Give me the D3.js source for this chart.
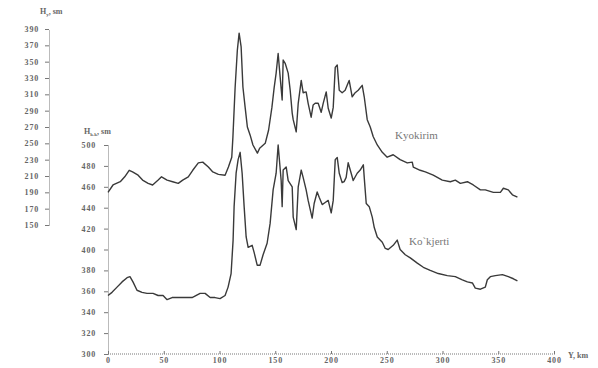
<!DOCTYPE html>
<html>
<head>
<meta charset="utf-8">
<script src="https://cdn.jsdelivr.net/npm/d3@7"></script>
<style>
  body { margin: 0; background: #fff; }
  text { font-family: "Liberation Serif", serif; }
</style>
</head>
<body>
<script>
// distance along profile, km
const kyokirimX = [0, 4.5, 11, 15, 19, 22, 27, 31, 36, 40, 45, 48, 53, 58, 63, 67, 72, 76, 81, 85, 90, 94, 99, 105, 108, 111, 112, 114, 116, 117.6, 119.4, 121, 123, 125, 127.5, 130, 134, 136, 141, 144, 147, 149, 150.8, 152.6, 154.4, 156.2, 157.1, 158.9, 161.6, 163.4, 165.2, 166.1, 168.8, 170.6, 173.3, 175, 177.7, 179.5, 182.2, 184, 185.8, 188.5, 191.2, 193, 195.7, 197.5, 200.2, 202, 203.8, 205.6, 207.4, 210, 212.7, 214.5, 216.3, 219, 221.7, 224.4, 228, 229.8, 232.5, 235.2, 237.9, 241.5, 246, 250.4, 255.8, 262, 268.4, 272.9, 273.8, 280, 284.6, 291.7, 299.8, 307, 311.5, 316, 322.3, 327.6, 334, 338.4, 345.6, 351.9, 354.6, 359, 362.7, 367.2];
const kyokirimH = [190, 199, 203, 209, 217, 215, 211, 205, 201, 199, 205, 209, 205, 203, 201, 205, 209, 217, 226, 227, 221, 215, 212, 211, 221, 233, 257, 318, 364, 385, 368, 319, 294, 270, 260, 248, 238, 244, 250, 266, 294, 318, 336, 360, 331, 303, 352, 348, 336, 315, 287, 279, 264, 299, 327, 312, 313, 299, 282, 297, 299, 299, 288, 299, 313, 293, 281, 294, 343, 346, 315, 312, 315, 321, 327, 307, 312, 315, 321, 307, 279, 270, 258, 248, 239, 233, 236, 230, 226, 227, 221, 217, 215, 211, 205, 203, 205, 201, 203, 199, 193, 193, 190, 190, 195, 193, 187, 184];

const kokjertiX = [0, 3.6, 8.1, 12.6, 17.1, 19.7, 22.4, 26, 30.5, 35, 40.4, 44.9, 49.4, 53, 57.5, 62.8, 69.1, 75.4, 82.6, 87.1, 91.6, 96, 100.5, 105, 107.7, 110.4, 112.2, 113.1, 114.9, 116.7, 118.5, 120.3, 122.1, 123.9, 125.7, 129.3, 131.1, 133.8, 136.4, 139.1, 142.7, 145.4, 148.1, 150.8, 152.6, 155.3, 156.2, 157.1, 159.8, 161.6, 165.2, 166.1, 168.8, 170.6, 173.3, 175, 177.7, 179.5, 183.1, 184.9, 187.6, 189.4, 192.1, 194.8, 197.5, 200.2, 202, 203.8, 205.6, 207.4, 210, 211.8, 213.6, 215.4, 218.1, 219.9, 223.5, 226.2, 229, 229.8, 231.6, 234.3, 237, 238.8, 241.5, 246, 248.7, 251.3, 255.8, 259.4, 262, 266.6, 271.1, 277.4, 282.8, 289, 296.2, 304.3, 311.5, 317.8, 322.3, 326.8, 329.4, 334, 338.4, 340.2, 342.9, 347.4, 353.7, 359, 363.6, 367.2];
const kokjertiH = [356, 359, 364, 369, 373, 374, 369, 361, 359, 358, 358, 356, 356, 352, 354, 354, 354, 354, 358, 358, 354, 354, 353, 356, 364, 377, 409, 441, 473, 486, 493, 473, 441, 412, 402, 404, 397, 385, 385, 395, 406, 425, 457, 473, 500, 466, 441, 476, 479, 466, 460, 431, 419, 460, 476, 469, 457, 447, 430, 444, 455, 450, 443, 445, 447, 435, 447, 486, 488, 473, 464, 465, 469, 483, 473, 466, 473, 476, 481, 469, 444, 441, 431, 421, 412, 407, 401, 400, 404, 409, 400, 395, 392, 387, 383, 380, 377, 375, 374, 371, 369, 368, 363, 362, 364, 371, 374, 375, 376, 374, 372, 370];

const leftTicks = [390, 370, 350, 330, 310, 290, 270, 250, 230, 210, 190, 170, 150];
const rightTicks = [500, 480, 460, 440, 420, 400, 380, 360, 340, 320, 300];
const xTicks = [0, 50, 100, 150, 200, 250, 300, 350, 400];

const width = 598;
const height = 368;

const svg = d3.select("body").append("svg")
  .attr("width", width)
  .attr("height", height)
  .attr("viewBox", [0, 0, width, height]);

const x = d3.scaleLinear().domain([0, 400]).range([108, 554]);
const yTop = d3.scaleLinear().domain([150, 390]).range([225, 29]);
const yBot = d3.scaleLinear().domain([300, 500]).range([354, 145]);

const axisColor = "#777";
const labelColor = "#666";

function styleAxis(g) {
  g.selectAll("path").attr("stroke", axisColor).attr("stroke-dasharray", "1,1");
  g.selectAll("line").attr("stroke", axisColor);
  g.selectAll("text")
    .attr("fill", labelColor)
    .attr("font-size", 8)
    .attr("font-weight", "bold")
    .attr("font-family", "Liberation Serif, serif")
    .attr("letter-spacing", "0.8");
}

// left axis for Kyokirim
svg.append("g")
  .attr("transform", "translate(49,0)")
  .call(d3.axisLeft(yTop).tickValues(leftTicks).tickSize(4).tickSizeOuter(0).tickPadding(6))
  .call(styleAxis);

// inner axis for Ko'kjerti
svg.append("g")
  .attr("transform", "translate(108,0)")
  .call(d3.axisLeft(yBot).tickValues(rightTicks).tickSize(4).tickSizeOuter(0).tickPadding(8))
  .call(styleAxis);

// x axis
const xa = svg.append("g")
  .attr("transform", "translate(0,354)")
  .call(d3.axisBottom(x).tickValues(xTicks).tickSize(-3).tickSizeOuter(0).tickPadding(3))
  .call(styleAxis);
xa.select("path").attr("d", `M108,0H556`);

// axis titles
function title(px, py, sub) {
  const t = svg.append("text")
    .attr("x", px).attr("y", py)
    .attr("fill", labelColor)
    .attr("font-size", 8)
    .attr("font-weight", "bold");
  t.append("tspan").text("H");
  t.append("tspan").attr("font-size", 5).attr("dy", 2).text(sub);
  t.append("tspan").attr("dy", -2).text(", sm");
}
title(40, 14, "y");
title(84, 134, "k.k");

svg.append("text")
  .attr("x", 568).attr("y", 358)
  .attr("fill", labelColor)
  .attr("font-size", 8)
  .attr("font-weight", "bold")
  .text("Y, km");

const lineTop = d3.line()
  .x((d, i) => x(kyokirimX[i]))
  .y(d => yTop(d));

const lineBot = d3.line()
  .x((d, i) => x(kokjertiX[i]))
  .y(d => yBot(d));

svg.append("path")
  .attr("d", lineTop(kyokirimH))
  .attr("fill", "none")
  .attr("stroke", "#3a3a3a")
  .attr("stroke-width", 1.4)
  .attr("stroke-linejoin", "round");

svg.append("path")
  .attr("d", lineBot(kokjertiH))
  .attr("fill", "none")
  .attr("stroke", "#3a3a3a")
  .attr("stroke-width", 1.4)
  .attr("stroke-linejoin", "round");

// series labels
svg.append("text")
  .attr("x", 395).attr("y", 139)
  .attr("fill", "#777")
  .attr("font-size", 11)
  .text("Kyokirim");

svg.append("text")
  .attr("x", 409).attr("y", 245)
  .attr("fill", "#777")
  .attr("font-size", 11)
  .text("Ko`kjerti");
</script>
</body>
</html>
